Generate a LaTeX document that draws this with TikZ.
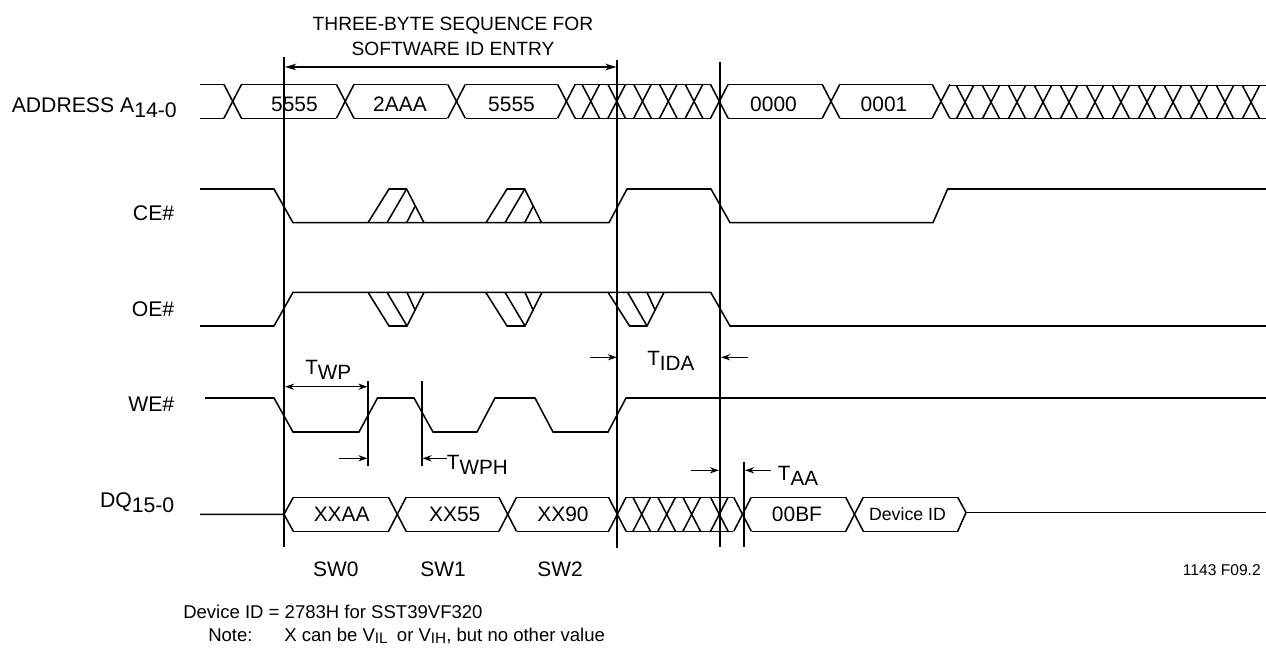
\documentclass[tikz,border=0pt]{standalone}
\usepackage{fontspec}
\usetikzlibrary{arrows.meta}
\setmainfont{Liberation Sans}
\newcommand{\lowsub}[1]{\raisebox{-3.75pt}{#1}}
\newcommand{\notesub}[1]{\raisebox{-2pt}{\fontsize{11.5}{14}\selectfont #1}}
\tikzset{
    signal/.style={line width=1.15pt},
    cursor/.style={line width=1.4pt},
    tick/.style={line width=1pt},
    dim/.style={line width=1.15pt, ->, >={Stealth[length=6.8pt, width=4.6pt]}},
    pinlabel/.style={inner sep=0pt, anchor=base east, font=\fontsize{15.9}{19}\selectfont},
    timelabel/.style={inner sep=0pt, anchor=base west, font=\fontsize{15.5}{19}\selectfont},
    datalabel/.style={inner sep=0pt, font=\fontsize{15.7}{19}\selectfont},
    notelabel/.style={inner sep=0pt, anchor=base west, font=\fontsize{13.9}{17}\selectfont}
}
\begin{document}
\begin{tikzpicture}[x=0.75pt, y=-0.75pt]
    \useasboundingbox (0,0) rectangle (1266,647);

    % Header over the entry sequence
    \node[inner sep=0pt, align=center, font=\fontsize{14.4}{18.75}\selectfont] (header) at (453,36.5) {THREE-BYTE SEQUENCE FOR\\SOFTWARE ID ENTRY};

    % Pin names
    \node[pinlabel] (addrname) at (177,112.3) {ADDRESS A\lowsub{14-0}};
    \node[pinlabel] (cename) at (174.5,220.7) {CE\#};
    \node[pinlabel] (oename) at (174.5,316.7) {OE\#};
    \node[pinlabel] (wename) at (174.5,411.7) {WE\#};
    \node[pinlabel] (dqname) at (174.5,507.7) {DQ\lowsub{15-0}};

    % Address bus
    \foreach \l/\r in {200/224, 241.3/336, 354/447, 465.8/557.4, 575.3/710.7, 728/822, 839.7/932} {
        \draw[signal] (\l,84.4) -- (\r,84.4);
        \draw[signal] (\l,118.3) -- (\r,118.3);
    }
    \draw[signal] (950,85.7) -- (1266,85.7);
    \draw[signal] (950,118.5) -- (1266,118.5);
    \foreach \c in {232.7, 345.2, 456.5, 566.4, 590.8, 616.7, 642.5, 668.3, 694, 719.3, 831, 941} {
        \draw[signal] (\c-8.8,84.4) -- (\c+8.8,118.3);
        \draw[signal] (\c-8.8,118.3) -- (\c+8.8,84.4);
    }
    \foreach \c in {965, 991, ..., 1251} {
        \draw[signal] (\c-8.5,85.7) -- (\c+8.5,118.5);
        \draw[signal] (\c-8.5,118.5) -- (\c+8.5,85.7);
    }
    \node[datalabel] (addr1) at (294.5,104) {5555};
    \node[datalabel] (addr2) at (400,104) {2AAA};
    \node[datalabel] (addr3) at (511.5,104) {5555};
    \node[datalabel] (addr4) at (773.5,104) {0000};
    \node[datalabel] (addr5) at (884,104) {0001};

    % CE#
    \draw[signal] (200,189) -- (274,189) -- (293,222.7) -- (609,222.7) -- (627,189) -- (711,189) -- (730,222.7) -- (933,222.7) -- (947.6,189) -- (1266,189);
    \foreach \a/\b/\c/\d in {368/389/406.6/424, 486/507/524.7/541.6} {
        \draw[signal] (\a,222.7) -- (\b,189) -- (\c,189) -- (\d,222.7);
        \draw[signal] (\b-2,222.7) -- (\c,189);
        \draw[signal] (\c,222.7) -- (\c+8.6,206);
    }

    % OE#
    \draw[signal] (200,326) -- (274,326) -- (293,292.3) -- (710.7,292.3) -- (730,326) -- (1266,326);
    \foreach \a/\b/\c/\d in {368/389/407/424, 485.7/507/525/542, 608/629.6/647/664} {
        \draw[signal] (\a,292.3) -- (\b,326) -- (\c,326) -- (\d,292.3);
        \draw[signal] (\b-2,292.3) -- (\c,326);
        \draw[signal] (\c,292.3) -- (\c+8.4,310.7);
    }

    % WE#
    \draw[signal] (205,398) -- (274,398) -- (293,432) -- (359,432) -- (377.5,398) -- (414,398) -- (433,432) -- (477,432) -- (495,398) -- (535,398) -- (553,432) -- (608,432) -- (626,398) -- (1266,398);

    % Data bus
    \draw[signal] (200,514.3) -- (284,514.3) -- (293.3,497.3);
    \draw[signal] (284,514.3) -- (293.3,531.3);
    \foreach \l/\r in {293.3/389, 405.7/499, 516.7/609, 625.7/733.3, 751.7/845.7, 863.3/957.7} {
        \draw[signal] (\l,497.3) -- (\r,497.3);
        \draw[signal] (\l,531.3) -- (\r,531.3);
    }
    \foreach \c in {397.3, 507.7, 617.3, 641.7, 666.7, 691.7, 719.3, 742.5, 854.5} {
        \draw[signal] (\c-8.8,497.3) -- (\c+8.8,531.3);
        \draw[signal] (\c-8.8,531.3) -- (\c+8.8,497.3);
    }
    \draw[signal] (957.7,497.3) -- (966,512.5) -- (957.7,531.3);
    \draw[signal] (966,512.5) -- (1266,512.5);
    \node[datalabel] (dq1) at (341.7,514.5) {XXAA};
    \node[datalabel] (dq2) at (454.7,514.5) {XX55};
    \node[datalabel] (dq3) at (563,514.5) {XX90};
    \node[datalabel] (dq4) at (797,514.5) {00BF};
    \node[datalabel, font=\fontsize{13.3}{16}\selectfont] (dq5) at (907.5,514.5) {Device ID};

    % Vertical markers
    \coordinate (markAtop) at (284,56.7);
    \coordinate (markAbot) at (284,546.7);
    \coordinate (markBtop) at (617.3,60.3);
    \coordinate (markBbot) at (617.3,547.5);
    \coordinate (markCtop) at (720,62);
    \coordinate (markCbot) at (720,546.7);
    \coordinate (markDtop) at (744,462);
    \coordinate (markDbot) at (744,546.7);
    \coordinate (wpEtop) at (368,381);
    \coordinate (wpEbot) at (368,465.7);
    \coordinate (wpFtop) at (422,381);
    \coordinate (wpFbot) at (422,465.7);
    \draw[cursor] (markAtop) -- (markAbot);
    \draw[cursor] (markBtop) -- (markBbot);
    \draw[cursor] (markCtop) -- (markCbot);
    \draw[cursor] (markDtop) -- (markDbot);
    \draw[tick] (wpEtop) -- (wpEbot);
    \draw[tick] (wpFtop) -- (wpFbot);

    % Arrows between the markers
    \coordinate (seqL) at (285,67);
    \coordinate (seqR) at (616.5,67);
    \coordinate (wpL) at (285,386.7);
    \coordinate (wpR) at (367.5,386.7);
    \coordinate (idaFromL) at (590,357.3);
    \coordinate (idaToL) at (616.8,357.3);
    \coordinate (idaFromR) at (748,357.3);
    \coordinate (idaToR) at (721,357.3);
    \coordinate (wphFromL) at (338.6,458.3);
    \coordinate (wphToL) at (367.5,458.3);
    \coordinate (wphFromR) at (447,458.3);
    \coordinate (wphToR) at (422.5,458.3);
    \coordinate (aaFromL) at (690.7,470.3);
    \coordinate (aaToL) at (719,470.3);
    \coordinate (aaFromR) at (770.7,470.3);
    \coordinate (aaToR) at (745,470.3);
    \draw[dim, <->, >={Stealth[length=8.5pt, width=5pt]}] (seqL) -- (seqR);
    \draw[dim, <->] (wpL) -- (wpR);
    \draw[dim] (idaFromL) -- (idaToL);
    \draw[dim] (idaFromR) -- (idaToR);
    \draw[dim] (wphFromL) -- (wphToL);
    \draw[dim] (wphFromR) -- (wphToR);
    \draw[dim] (aaFromL) -- (aaToL);
    \draw[dim] (aaFromR) -- (aaToR);

    % Timing names
    \node[timelabel] (twp) at (305,374) {T\lowsub{WP}};
    \node[timelabel] (tida) at (647,365) {T\lowsub{IDA}};
    \node[timelabel] (twph) at (446.7,469) {T\lowsub{WPH}};
    \node[timelabel] (taa) at (777.7,480) {T\lowsub{AA}};

    % Write cycles
    \node[datalabel] (sw0) at (335.8,569) {SW0};
    \node[datalabel] (sw1) at (443,569) {SW1};
    \node[datalabel] (sw2) at (560,569) {SW2};

    % Notes
    \node[inner sep=0pt, anchor=base east, font=\fontsize{11.7}{14}\selectfont] (figno) at (1261,575) {1143 F09.2};
    \node[notelabel] (devid) at (183,618.3) {Device ID = 2783H for SST39VF320};
    \node[notelabel] (notehead) at (208,641) {Note:};
    \node[notelabel] (notetext) at (284,641) {X can be V\notesub{IL}\hspace{0.5em}or V\notesub{IH}, but no other value};
\end{tikzpicture}
\end{document}
